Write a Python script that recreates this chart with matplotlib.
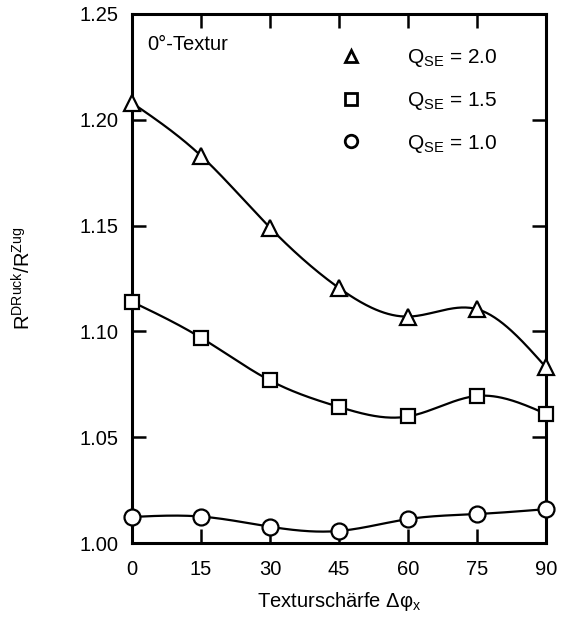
import numpy as np
import matplotlib
matplotlib.use('Agg')
import matplotlib.pyplot as plt
from matplotlib.lines import Line2D

#%% Data
texture = [0, 15, 30, 45, 60, 75, 90]
q20 = [1.208, 1.183, 1.149, 1.1205, 1.107, 1.1105, 1.083]
q15 = [1.114, 1.097, 1.0768, 1.0643, 1.0598, 1.0695, 1.061]
q10 = [1.0123, 1.0125, 1.0077, 1.0057, 1.0113, 1.0137, 1.016]
labels = ['Q$_\\mathregular{SE}$ = 2.0', 'Q$_\\mathregular{SE}$ = 1.5',
          'Q$_\\mathregular{SE}$ = 1.0']
xticks = [0, 15, 30, 45, 60, 75, 90]
yticks = [1.00, 1.05, 1.10, 1.15, 1.20, 1.25]


def natural_spline(x, y, n=300):
    """Natural cubic spline through the points (smooth guide line)"""
    x = np.asarray(x, float)
    y = np.asarray(y, float)
    k = len(x)
    h = np.diff(x)
    A = np.zeros((k, k))
    b = np.zeros(k)
    A[0, 0] = A[-1, -1] = 1
    for i in range(1, k - 1):
        A[i, i - 1] = h[i - 1]
        A[i, i] = 2 * (h[i - 1] + h[i])
        A[i, i + 1] = h[i]
        b[i] = 6 * ((y[i + 1] - y[i]) / h[i] - (y[i] - y[i - 1]) / h[i - 1])
    m = np.linalg.solve(A, b)
    xs = np.linspace(x[0], x[-1], n)
    idx = np.clip(np.searchsorted(x, xs) - 1, 0, k - 2)
    x0, x1 = x[idx], x[idx + 1]
    y0, y1 = y[idx], y[idx + 1]
    m0, m1 = m[idx], m[idx + 1]
    hh = x1 - x0
    t0 = x1 - xs
    t1 = xs - x0
    ys = (m0 * t0**3 + m1 * t1**3) / (6 * hh) \
        + (y0 / hh - m0 * hh / 6) * t0 + (y1 / hh - m1 * hh / 6) * t1
    return xs, ys


plt.rcParams['font.family'] = ['Liberation Sans', 'DejaVu Sans']
plt.rcParams['mathtext.fontset'] = 'custom'
plt.rcParams['mathtext.rm'] = 'Liberation Sans'
plt.rcParams['mathtext.it'] = 'Liberation Sans'
fs = 14.5

f = plt.figure(figsize=(5.61, 6.24), dpi=100)
ax = f.add_axes([0.2353, 0.1298, 0.9733 - 0.2353, 0.9776 - 0.1298])

for yv, mk in zip([q20, q15, q10], ['^', 's', 'o']):
    xs, ys = natural_spline(texture, yv)
    ax.plot(xs, ys, '-', color='black', lw=1.6, zorder=2)
    ax.plot(texture, yv, mk, ms=11.5 if mk != 's' else 10, mfc='white',
            mec='black', mew=1.6, clip_on=False, zorder=3)

ax.set_xlim(0, 90)
ax.set_ylim(1.00, 1.25)
ax.set_xticks(xticks)
ax.set_yticks(yticks)
ax.set_yticklabels(['%.2f' % v for v in yticks])
ax.tick_params(direction='in', length=10, width=1.8, labelsize=fs,
               top=True, right=True)
ax.tick_params(axis='x', pad=12)
ax.tick_params(axis='y', pad=10)
for s in ax.spines.values():
    s.set_linewidth(2.2)

ax.set_xlabel('Texturschärfe Δφ$_\\mathregular{x}$', fontsize=fs, labelpad=8)
ax.set_ylabel('R$^\\mathregular{DRuck}$/R$^\\mathregular{Zug}$', fontsize=fs,
              labelpad=32)
ax.text(0.037, 0.943, '0°-Textur', transform=ax.transAxes, fontsize=fs,
        va='center', ha='left')

handles = [Line2D([], [], ls='none', marker=m, ms=9 if m != 's' else 8,
                  mfc='white', mec='black', mew=2.0) for m in ['^', 's', 'o']]
ax.legend(handles, labels, loc='upper left', bbox_to_anchor=(0.458, 0.973),
          frameon=False, fontsize=15, handlelength=1.0, handletextpad=2.2,
          labelspacing=1.0)

f.savefig('out.png', dpi=100)
